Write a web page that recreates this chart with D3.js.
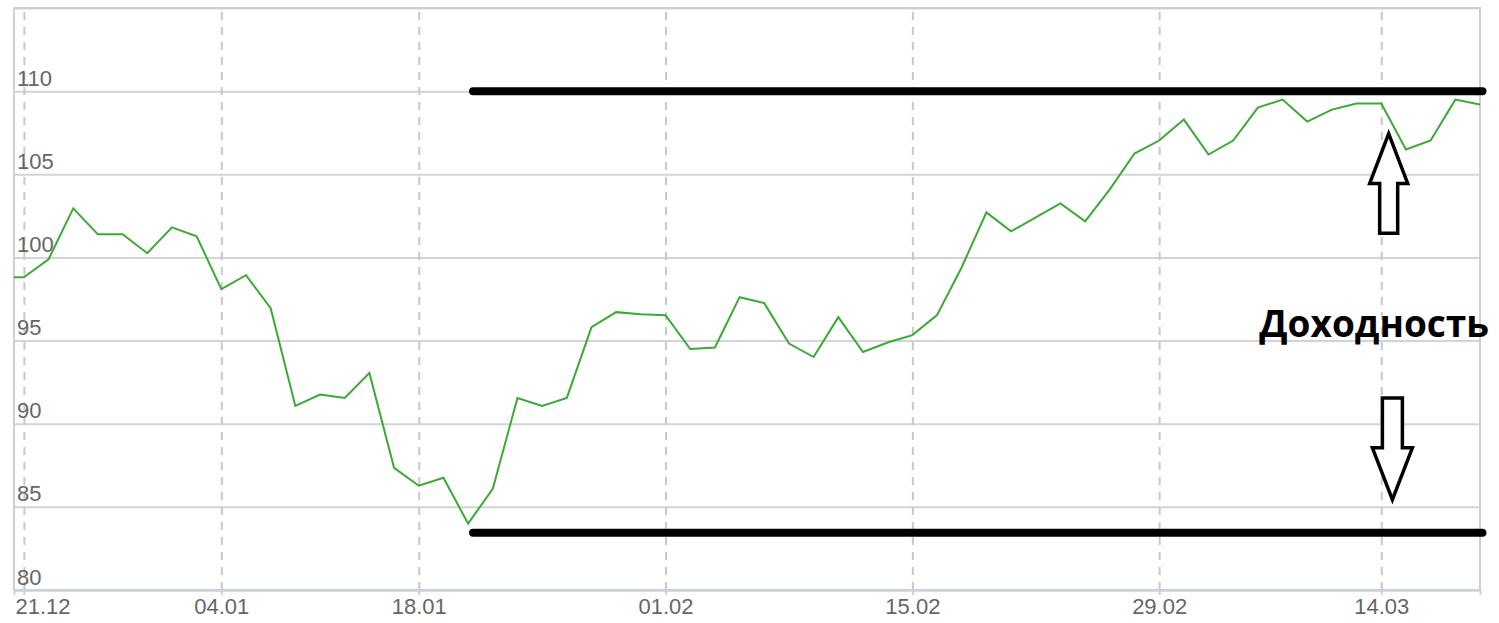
<!DOCTYPE html>
<html>
<head>
<meta charset="utf-8">
<script src="https://cdn.jsdelivr.net/npm/d3@7"></script>
<style>
  body { margin: 0; background: #fff; }
  svg { display: block; }
  .label { font-family: 'Liberation Sans', Arial, sans-serif; font-size: 22px; fill: #666; }
</style>
</head>
<body>
<svg id="chart" width="1499" height="623"></svg>
<script>
// one point per trading day, index 0 sits just left of the plot
const values = [
  98.8, 98.81, 99.89, 102.95, 101.39, 101.39, 100.25, 101.81, 101.27, 98.09,
  98.93, 96.95, 91.07, 91.75, 91.55, 93.05, 87.35, 86.27, 86.75, 83.99,
  86.09, 91.55, 91.07, 91.55, 95.81, 96.71, 96.59, 96.53, 94.49, 94.58,
  97.61, 97.25, 94.82, 94.01, 96.41, 94.31, 94.88, 95.33, 96.53, 99.41,
  102.71, 101.57, 102.41, 103.25, 102.17, 104.09, 106.25, 107.03, 108.29, 106.19,
  107.03, 109.01, 109.49, 108.17, 108.89, 109.25, 109.25, 106.49, 107.03, 109.49,
  109.19
]
const tickIndex = [1, 9, 17, 27, 37, 47, 56]
const tickLabels = ['21.12', '04.01', '18.01', '01.02', '15.02', '29.02', '14.03']
const yTicks = [80, 85, 90, 95, 100, 105, 110]
const yGrid = [80, 85, 90, 95, 100, 105, 110, 115]

// channel drawn over the chart
const channelLevels = [110, 83.45]
const channelFrom = 19.2
const channelTo = 60.1
// arrows: [index, tail value, head base value, tip value]
const arrowUp = [56.3, 101.45, 104.45, 107.45]
const arrowDown = [56.45, 91.55, 88.55, 85.43]
const noteText = 'Доходность'
const noteValue = 95.2

const svg = d3.select('#chart')
const width = +svg.attr('width')
const height = +svg.attr('height')
const margin = { left: 14, right: 19, top: 8, bottom: 33 }
const innerWidth = width - margin.left - margin.right
const innerHeight = height - margin.top - margin.bottom

const x = d3.scaleLinear().domain([0.6, 60]).range([0, innerWidth])
const y = d3.scaleLinear().domain([80, 115]).range([innerHeight, 0])

const g = svg.append('g')
  .attr('transform', 'translate(' + margin.left + ',' + margin.top + ')')

svg.append('defs')
  .append('clipPath')
  .attr('id', 'clip')
  .append('rect')
  .attr('width', innerWidth)
  .attr('height', innerHeight)

// horizontal grid
g.append('g')
  .call(d3.axisLeft(y).tickValues(yGrid).tickSize(-innerWidth).tickFormat(''))
  .call(s => s.select('.domain').remove())
  .call(s => s.selectAll('text').remove())
  .selectAll('.tick line')
  .attr('stroke', '#d4d4d4')
  .attr('stroke-width', 2)

// vertical dashed grid
g.append('g')
  .attr('transform', `translate(0, ${innerHeight})`)
  .call(d3.axisBottom(x).tickValues(tickIndex).tickSize(-innerHeight).tickFormat(''))
  .call(s => s.select('.domain').remove())
  .call(s => s.selectAll('text').remove())
  .selectAll('.tick line')
  .attr('stroke', '#c8c8c8')
  .attr('stroke-width', 2)
  .attr('stroke-dasharray', '8,7')

// plot frame
g.append('rect')
  .attr('width', innerWidth)
  .attr('height', innerHeight)
  .attr('fill', 'none')
  .attr('stroke', '#cfcfcf')
  .attr('stroke-width', 2)

// y labels sit inside the plot, above their grid line
const yAxisG = g.append('g')
  .call(d3.axisLeft(y).tickValues(yTicks).tickSize(0))
yAxisG.select('.domain').remove()
yAxisG.selectAll('text')
  .attr('class', 'label')
  .attr('x', 3)
  .attr('dy', -6)
  .attr('text-anchor', 'start')
  .attr('fill', null)

// x axis
const xAxisG = g.append('g')
  .attr('transform', `translate(0, ${innerHeight})`)
  .call(d3.axisBottom(x).tickValues(tickIndex).tickSize(5).tickFormat((d, i) => tickLabels[i]))
xAxisG.select('.domain')
  .attr('stroke', '#c4d2e2')
  .attr('stroke-width', 2)
xAxisG.selectAll('.tick line')
  .attr('stroke', '#c4d2e2')
  .attr('stroke-width', 2)
xAxisG.selectAll('text')
  .attr('class', 'label')
  .attr('fill', null)
  .attr('y', 24)
  .attr('dy', 0)
xAxisG.attr('font-size', null).attr('font-family', null)
yAxisG.attr('font-size', null).attr('font-family', null)
// keep the first label inside the chart like the original
xAxisG.selectAll('.tick').each(function (d) {
  let t = d3.select(this).select('text')
  let w = t.node().getComputedTextLength()
  let left = x(d) - w / 2
  if (left < 1) t.attr('x', 1 - left)
})

// price line
const line = d3.line()
  .x((d, i) => x(i))
  .y(d => y(d))
g.append('path')
  .datum(values)
  .attr('clip-path', 'url(#clip)')
  .attr('fill', 'none')
  .attr('stroke', '#3aaa35')
  .attr('stroke-width', 2)
  .attr('stroke-linejoin', 'miter')
  .attr('d', line)

// channel lines
g.selectAll('.channel')
  .data(channelLevels)
  .enter().append('line')
  .attr('class', 'channel')
  .attr('x1', x(channelFrom))
  .attr('x2', x(channelTo))
  .attr('y1', d => y(d))
  .attr('y2', d => y(d))
  .attr('stroke', '#000')
  .attr('stroke-width', 8)
  .attr('stroke-linecap', 'round')

// hollow arrows
let arrowPath = function (a, shaft, head) {
  let cx = x(a[0])
  let tail = y(a[1])
  let base = y(a[2])
  let tip = y(a[3])
  return 'M' + (cx - shaft) + ',' + tail +
    'L' + (cx - shaft) + ',' + base +
    'L' + (cx - head) + ',' + base +
    'L' + cx + ',' + tip +
    'L' + (cx + head) + ',' + base +
    'L' + (cx + shaft) + ',' + base +
    'L' + (cx + shaft) + ',' + tail + 'Z'
}
g.append('path')
  .attr('d', arrowPath(arrowUp, 9, 19))
  .attr('fill', '#fff')
  .attr('stroke', '#000')
  .attr('stroke-width', 3.5)
  .attr('stroke-linejoin', 'miter')
g.append('path')
  .attr('d', arrowPath(arrowDown, 10, 20))
  .attr('fill', '#fff')
  .attr('stroke', '#000')
  .attr('stroke-width', 3.5)
  .attr('stroke-linejoin', 'miter')

g.append('text')
  .attr('x', x(60) + 9)
  .attr('y', y(noteValue))
  .attr('text-anchor', 'end')
  .style('font-family', "'Open Sans', sans-serif")
  .style('font-weight', 700)
  .style('font-size', '37px')
  .style('fill', '#000')
  .text(noteText)
</script>
</body>
</html>
